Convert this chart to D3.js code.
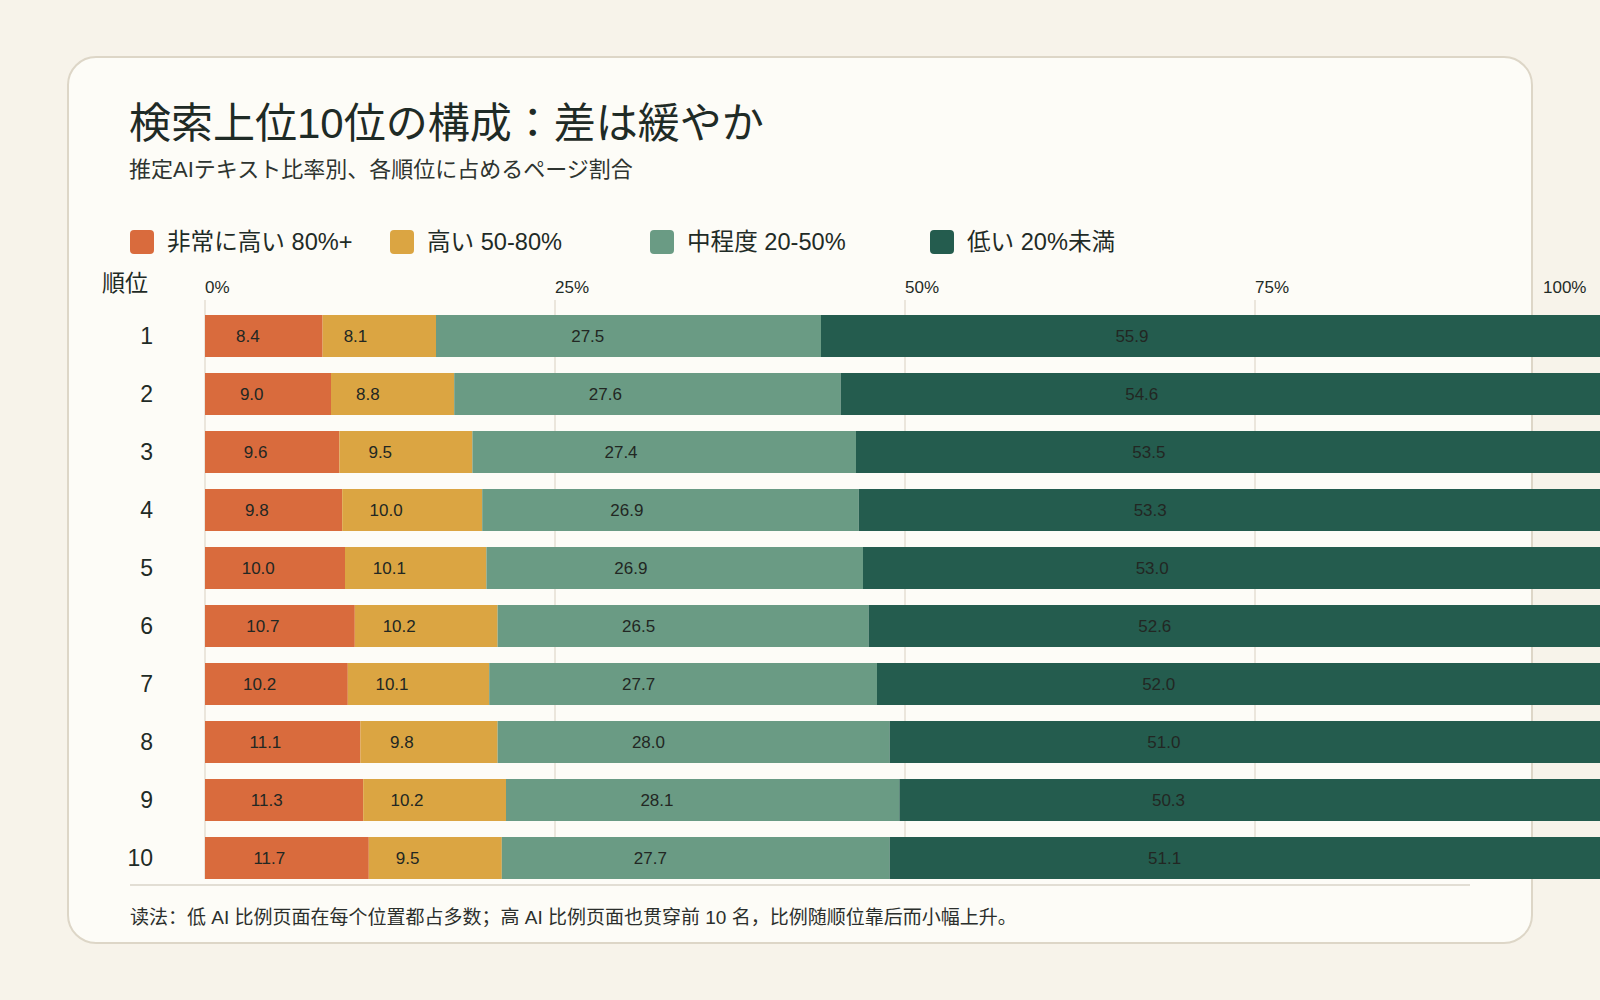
<!DOCTYPE html>
<html>
<head>
<meta charset="utf-8">
<script src="https://cdn.jsdelivr.net/npm/d3@7"></script>
<style>
  html, body { margin: 0; padding: 0; background: #f7f3ea; overflow: hidden; }
  svg { display: block; }
</style>
</head>
<body>
<svg id="mainsvg" width="1600" height="1000"></svg>
<script>
// データ
const ranks = ["1", "2", "3", "4", "5", "6", "7", "8", "9", "10"];
const veryHigh = [8.4, 9.0, 9.6, 9.8, 10.0, 10.7, 10.2, 11.1, 11.3, 11.7];
const high = [8.1, 8.8, 9.5, 10.0, 10.1, 10.2, 10.1, 9.8, 10.2, 9.5];
const medium = [27.5, 27.6, 27.4, 26.9, 26.9, 26.5, 27.7, 28.0, 28.1, 27.7];
const low = [55.9, 54.6, 53.5, 53.3, 53.0, 52.6, 52.0, 51.0, 50.3, 51.1];
const seriesKeys = ["veryHigh", "high", "medium", "low"];
const seriesNames = ["非常に高い 80%+", "高い 50-80%", "中程度 20-50%", "低い 20%未満"];
const tickValues = [0, 25, 50, 75, 100];

const title = "検索上位10位の構成：差は緩やか";
const subtitle = "推定AIテキスト比率別、各順位に占めるページ割合";
const note = "读法：低 AI 比例页面在每个位置都占多数；高 AI 比例页面也贯穿前 10 名，比例随顺位靠后而小幅上升。";

const colorSet = ["#d96b3d", "#dba542", "#6a9b84", "#245c4e"];
const ink = "#1f2b26";
const fontJP = "'Liberation Sans', 'Noto Sans CJK JP', sans-serif";
const fontSC = "'Liberation Sans', 'Noto Sans CJK SC', sans-serif";

const svg = d3.select('#mainsvg');

// 行データ
const rows = ranks.map((r, i) => ({
  rank: r,
  veryHigh: veryHigh[i],
  high: high[i],
  medium: medium[i],
  low: low[i]
}));

const stacked = d3.stack().keys(seriesKeys)(rows);

// 比例尺
const x = d3.scaleLinear().domain([0, 100]).range([205, 1605]);
// 数値ラベル用（元図ではラベルがやや左寄り）
const xLabel = d3.scaleLinear().domain([0, 100]).range([193, 1498]);
const y = d3.scaleBand()
  .domain(ranks)
  .range([307, 887])
  .paddingInner(16 / 58)
  .paddingOuter(8 / 58);
const color = d3.scaleOrdinal().domain(seriesKeys).range(colorSet);

// カード
svg.append("rect")
  .attr("x", 68)
  .attr("y", 57)
  .attr("width", 1464)
  .attr("height", 886)
  .attr("rx", 28)
  .attr("fill", "#fdfcf7")
  .attr("stroke", "#ddd6c7")
  .attr("stroke-width", 2);

// タイトル
svg.append("text")
  .attr("x", 129)
  .attr("y", 138)
  .attr("font-family", fontJP)
  .attr("font-size", 42)
  .attr("fill", ink)
  .text(title);

svg.append("text")
  .attr("x", 129)
  .attr("y", 177)
  .attr("font-family", fontJP)
  .attr("font-size", 22)
  .attr("fill", "#2e3430")
  .text(subtitle);

// 凡例
const legendX = [130, 390, 650, 930];
const legend = svg.append("g")
  .selectAll("g")
  .data(seriesKeys)
  .join("g")
  .attr("transform", (d, i) => `translate(${legendX[i]},230)`);

legend.append("rect")
  .attr("width", 24)
  .attr("height", 24)
  .attr("rx", 4)
  .attr("fill", (d) => color(d));

legend.append("text")
  .attr("x", 37)
  .attr("y", 12)
  .attr("dy", "0.35em")
  .attr("font-family", fontJP)
  .attr("font-size", 23.6)
  .attr("fill", ink)
  .text((d, i) => seriesNames[i]);

// 順位ヘッダー
svg.append("text")
  .attr("x", 102)
  .attr("y", 283)
  .attr("dy", "0.35em")
  .attr("font-family", fontJP)
  .attr("font-size", 23)
  .attr("fill", ink)
  .text("順位");

// グリッド線
svg.append("g")
  .selectAll("line")
  .data(tickValues)
  .join("line")
  .attr("x1", (d) => x(d))
  .attr("x2", (d) => x(d))
  .attr("y1", 300)
  .attr("y2", 879)
  .attr("stroke", "#ebe6dc")
  .attr("stroke-width", 2);

// 目盛ラベル
svg.append("g")
  .selectAll("text")
  .data(tickValues)
  .join("text")
  .attr("x", (d) => Math.min(x(d), 1543))
  .attr("y", 287)
  .attr("dy", "0.35em")
  .attr("font-family", fontJP)
  .attr("font-size", 17)
  .attr("fill", ink)
  .text((d) => d + "%");

// 順位ラベル
svg.append("g")
  .selectAll("text")
  .data(ranks)
  .join("text")
  .attr("x", 153)
  .attr("y", (d) => y(d) + y.bandwidth() / 2)
  .attr("dy", "0.35em")
  .attr("text-anchor", "end")
  .attr("font-family", fontJP)
  .attr("font-size", 23)
  .attr("fill", ink)
  .text((d) => d);

// 積み上げ棒
const layers = svg.append("g")
  .selectAll("g")
  .data(stacked)
  .join("g")
  .attr("fill", (d) => color(d.key));

layers.selectAll("rect")
  .data((d) => d)
  .join("rect")
  .attr("x", (d) => x(d[0]))
  .attr("y", (d) => y(d.data.rank))
  .attr("width", (d) => x(d[1]) - x(d[0]))
  .attr("height", y.bandwidth());

// 数値ラベル
const labels = svg.append("g")
  .selectAll("g")
  .data(stacked)
  .join("g");

labels.selectAll("text")
  .data((d) => d.map((p) => ({ p, key: d.key })))
  .join("text")
  .attr("x", (d) => xLabel((d.p[0] + d.p[1]) / 2))
  .attr("y", (d) => y(d.p.data.rank) + y.bandwidth() / 2)
  .attr("dy", "0.35em")
  .attr("text-anchor", "middle")
  .attr("font-family", fontJP)
  .attr("font-size", 17)
  .attr("fill", "#222723")
  .text((d) => d.p.data[d.key].toFixed(1));

// 区切り線
svg.append("line")
  .attr("x1", 130)
  .attr("x2", 1470)
  .attr("y1", 885)
  .attr("y2", 885)
  .attr("stroke", "#d9d4c8")
  .attr("stroke-width", 1.5);

// 注記
svg.append("text")
  .attr("x", 130)
  .attr("y", 917)
  .attr("dy", "0.35em")
  .attr("font-family", fontSC)
  .attr("font-size", 19)
  .attr("fill", "#2b2f2c")
  .text(note);
</script>
</body>
</html>
